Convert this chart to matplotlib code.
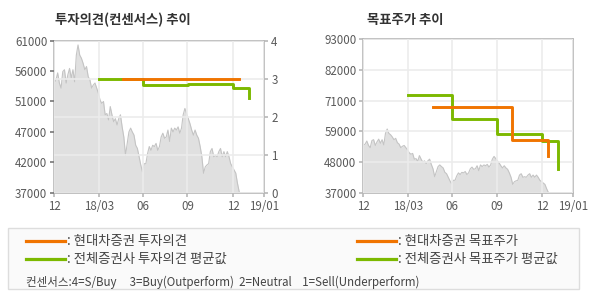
import matplotlib
matplotlib.use("Agg")
import matplotlib.pyplot as plt
import numpy as np
from matplotlib.patches import Rectangle

plt.rcParams['font.family'] = ['Noto Sans CJK KR', 'DejaVu Sans']

# 주가 (종가, 원) - 12월부터 12월 중순까지
price = [54300, 54800, 55900, 54300, 53500, 56100, 56400, 54300, 55600, 56600,
         55100, 56400, 54500, 58700, 60300, 58700, 58200, 57400, 56400, 56900,
         55300, 54800, 53500, 54000, 54300, 53500, 52700, 51600, 51100, 51400,
         49300, 49500, 48500, 50600, 49300, 48200, 48700, 47700, 48700, 49300,
         47400, 45800, 42900, 44800, 46600, 47200, 46600, 46100, 44500, 44000,
         42700, 41400, 40300, 41600, 41600, 43200, 44300, 43700, 44500, 44300,
         44800, 43700, 44300, 45800, 46400, 45600, 45800, 46900, 45100, 47200,
         46600, 47200, 46900, 47400, 46400, 47200, 49300, 50300, 49500, 48700,
         47900, 46900, 46100, 46900, 46100, 45600, 44300, 42700, 40100, 41100,
         41400, 41600, 43500, 44000, 42700, 42900, 42700, 43500, 44000, 42700,
         43500, 42700, 43500, 42700, 41600, 41100, 40600, 40100, 38500, 37200]
price_x = np.linspace(0, 12.5, len(price))

# x축 (월 위치)
xtick_pos = [0, 3, 6, 9, 12.1, 14.2]
xtick_labels = ['12', '18/03', '06', '09', '12', '19/01']

# 투자의견
hd_opinion_x = [4.67, 12.46]
hd_opinion = [3.0, 3.0]
avg_opinion_x = [3.0, 5.97, 9.06, 12.1, 13.19]
avg_opinion = [3.0, 2.84, 2.87, 2.76, 2.5]

# 목표주가
hd_target_x = [4.67, 10.05, 12.49]
hd_target = [68300, 56200, 50400]
avg_target_x = [3.0, 6.0, 9.02, 12.1, 13.16]
avg_target = [72700, 64000, 58400, 56000, 45800]

left_yticks = [37000, 41800, 46600, 51400, 56200, 61000]
left_ylabels = ['37000', '42000', '47000', '51000', '56000', '61000']
right_yticks = [37000, 48200, 59400, 70600, 81800, 93000]
right_ylabels = ['37000', '48000', '59000', '71000', '82000', '93000']

ORANGE = '#f07400'
GREEN = '#7cb900'
GRID = '#ececec'
SPINE = '#b8b8b8'
TXT = '#5a5a5a'
TICKFS = 8.3

fig = plt.figure(figsize=(5.9, 3.0), dpi=100)


def style_axes(ax):
    for s in ax.spines.values():
        s.set_color(SPINE)
        s.set_linewidth(1.2)
    ax.tick_params(colors=SPINE, labelcolor=TXT, labelsize=TICKFS, length=3, width=1.2)
    ax.set_xlim(0, 14.2)
    ax.set_xticks(xtick_pos)
    ax.set_xticklabels(xtick_labels)
    ax.tick_params(axis='x', pad=2)


# 왼쪽: 투자의견 추이
ax1 = fig.add_axes([0.092, 0.357, 0.356, 0.508])
ax1.fill_between(price_x, 37000, price, color='#e0e0e0', lw=0, zorder=1)
ax1.plot(price_x, price, color='#c4c4c4', lw=0.8, zorder=1.5)
ax1.set_ylim(37000, 61000)
ax1.set_yticks(left_yticks)
ax1.set_yticklabels(left_ylabels)
style_axes(ax1)
ax1.tick_params(axis='y', colors='#777777', labelcolor=TXT, pad=2)
ax1.grid(axis='x', color=GRID, lw=1.2)
ax1.set_axisbelow(False)

ax1b = ax1.twinx()
ax1b.set_ylim(0, 4)
ax1b.set_yticks([0, 1, 2, 3, 4])
ax1b.set_xlim(0, 14.2)
for s in ax1b.spines.values():
    s.set_visible(False)
ax1b.tick_params(colors=SPINE, labelcolor=TXT, labelsize=TICKFS, length=3, width=1.2, pad=2)
ax1b.grid(axis='y', color=GRID, lw=1.2, zorder=0)
ax1b.plot(avg_opinion_x, avg_opinion, drawstyle='steps-post', color=GREEN, lw=2.1, zorder=3)
ax1b.plot(hd_opinion_x, hd_opinion, drawstyle='steps-post', color=ORANGE, lw=2.1, zorder=4)
ax1b.patch.set_visible(False)

fig.text(0.093, 0.933, '투자의견(컨센서스) 추이', fontsize=9.6, fontweight='bold',
         color='#333333', va='center')

# 오른쪽: 목표주가 추이
ax2 = fig.add_axes([0.616, 0.357, 0.356, 0.512])
ax2.fill_between(price_x, 37000, price, color='#e0e0e0', lw=0, zorder=1)
ax2.plot(price_x, price, color='#c4c4c4', lw=0.8, zorder=1.5)
ax2.set_ylim(37000, 93000)
ax2.set_yticks(right_yticks)
ax2.set_yticklabels(right_ylabels)
style_axes(ax2)
ax2.tick_params(axis='y', pad=2)
ax2.grid(color=GRID, lw=1.2)
ax2.set_axisbelow(False)
ax2.plot(avg_target_x, avg_target, drawstyle='steps-post', color=GREEN, lw=2.1, zorder=3)
ax2.plot(hd_target_x, hd_target, drawstyle='steps-post', color=ORANGE, lw=2.1, zorder=4)

fig.text(0.622, 0.933, '목표주가 추이', fontsize=9.6, fontweight='bold',
         color='#333333', va='center')

# 범례 박스
box = Rectangle((8 / 590, 1 - 289 / 300), 571 / 590, 61.5 / 300, transform=fig.transFigure,
                facecolor='#fafafa', edgecolor='#dddddd', lw=1.0)
fig.patches.append(box)

legend_rows = [
    (26, 241, ORANGE, ': 현대차증권 투자의견'),
    (26, 259, GREEN, ': 전체증권사 투자의견 평균값'),
    (357, 241, ORANGE, ': 현대차증권 목표주가'),
    (357, 259, GREEN, ': 전체증권사 목표주가 평균값'),
]
for x0, y0, col, label in legend_rows:
    fig.add_artist(plt.Line2D([x0 / 590, (x0 + 39) / 590], [1 - y0 / 300, 1 - y0 / 300],
                              transform=fig.transFigure, color=col, lw=2.3))
    fig.text((x0 + 41) / 590, 1 - y0 / 300, label, fontsize=9.6, color='#444444',
             va='center')

fig.text(26 / 590, 1 - 282 / 300,
         '컨센서스:4=S/Buy     3=Buy(Outperform)  2=Neutral    1=Sell(Underperform)',
         fontsize=8.3, color='#444444', va='center')

fig.savefig('out.png', dpi=100)
